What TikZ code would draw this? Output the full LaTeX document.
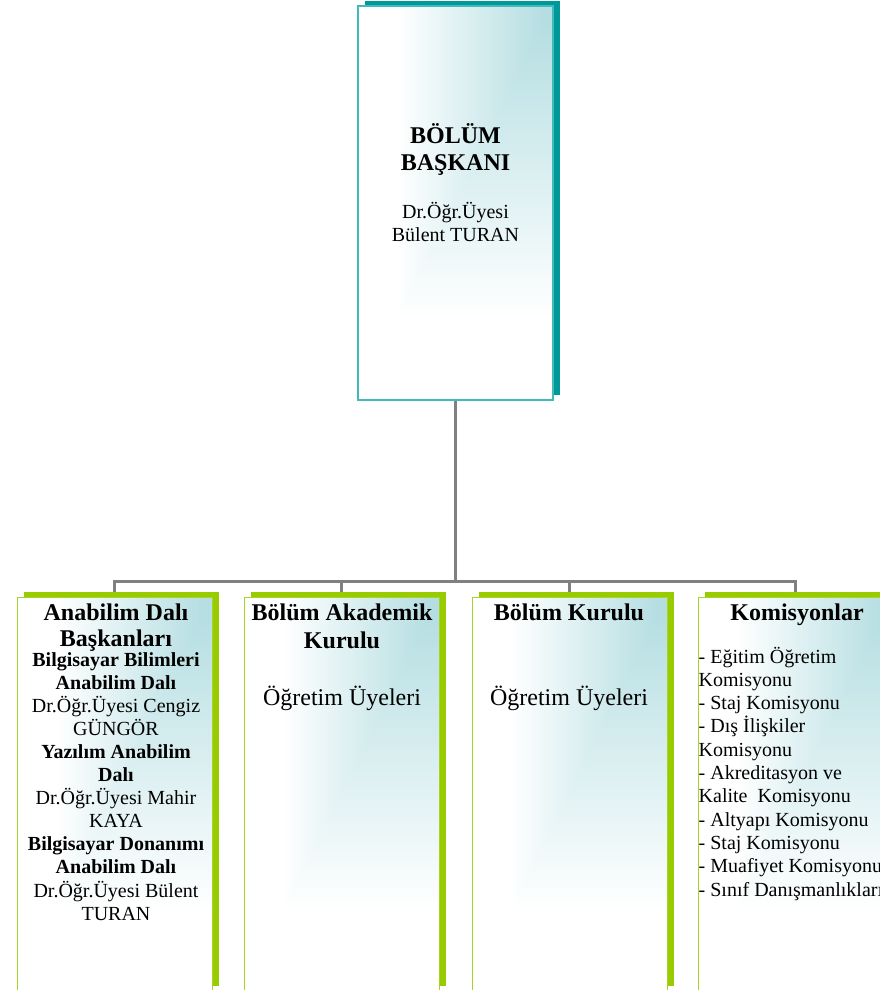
\documentclass[tikz,border=0pt]{standalone}
\usepackage{fontspec}
\setmainfont{Liberation Serif}
\usetikzlibrary{shadows,backgrounds}
\definecolor{tealD}{RGB}{0,153,153}
\definecolor{tealB}{RGB}{64,186,186}
\definecolor{grn}{RGB}{153,204,0}
\definecolor{grnB}{RGB}{168,212,40}
\definecolor{connc}{RGB}{128,128,128}
% rectangular "from corner" gradient: light teal at upper right, white at left and bottom
\pgfdeclarefunctionalshading{cornershade}{\pgfpoint{-98bp}{-200bp}}{\pgfpoint{98bp}{200bp}}{}{
  200 exch sub 394 div
  exch 98 exch sub 196 div
  2 copy lt {exch} if pop
  0.05 sub 0.75 div
  dup 0 lt {pop 0} if
  dup 1 gt {pop 1} if
  dup dup
  0.2902 mul 0.7098 add
  3 1 roll
  0.1294 mul 0.8706 add
  exch
  0.1137 mul 0.8863 add
}
\newcommand\hfont{\fontsize{24}{28}\selectfont\bfseries}
\newcommand\bfont{\fontsize{20}{23}\selectfont}
\newcommand\boxgradient{%
  \begin{pgfscope}%
    \pgftransformshift{\pgfpointanchor{path picture bounding box}{center}}%
    \pgflowlevelsynccm
    \pgfuseshading{cornershade}%
  \end{pgfscope}}
\begin{document}
\begin{tikzpicture}[x=1pt,y=-1pt,
  frontbox/.style={rectangle, inner sep=0pt, outer sep=0pt, anchor=north west, minimum width=195pt, fill=white,
    path picture={\boxgradient}},
  topbox/.style={frontbox, minimum height=394pt, draw=tealB, line width=1.5pt,
    general shadow={fill=tealD, shadow xshift=7pt, shadow yshift=5pt}},
  botbox/.style={frontbox, minimum height=394pt, draw=grnB, line width=1pt,
    general shadow={fill=grn, shadow xshift=6.5pt, shadow yshift=5pt}},
  connector/.style={draw=connc, line width=3pt, line join=miter},
  txt/.style={inner sep=0pt, anchor=base},
  ltxt/.style={inner sep=0pt, anchor=base west}]
\useasboundingbox (0,0) rectangle (880,990);

% boxes
\node[topbox] (top) at (358,6) {};
\node[botbox] (b1) at (17,597) {};
\node[botbox] (b2) at (244,597) {};
\node[botbox] (b3) at (472,597) {};
\node[botbox] (b4) at (698,597) {};

% connectors
\coordinate (bar) at (0,581);
\begin{scope}[on background layer]
\fill[white] (0,0) rectangle (880,990);
\draw[connector] (top.south) -- (top.south |- bar);
\draw[connector] (b1.north) -- (b1.north |- bar) -- (b4.north |- bar) -- (b4.north);
\draw[connector] (b2.north |- bar) -- (b2.north);
\draw[connector] (b3.north |- bar) -- (b3.north);
\end{scope}

% top box text
\node[txt, font=\hfont] (t1) at (455.5,143) {BÖLÜM};
\node[txt, font=\hfont] (t2) at (455.5,170) {BAŞKANI};
\node[txt, font=\bfont] (t3) at (455.5,218) {Dr.Öğr.Üyesi};
\node[txt, font=\bfont] (t4) at (455.5,241) {Bülent TURAN};

% box 1
\node[txt, font=\hfont] (h1a) at (116,620) {Anabilim Dalı};
\node[txt, font=\hfont] (h1b) at (116,646) {Başkanları};
\foreach \lbl [count=\i] in {{\bfseries Bilgisayar Bilimleri},{\bfseries Anabilim Dalı},Dr.Öğr.Üyesi Cengiz,GÜNGÖR,{\bfseries Yazılım Anabilim},{\bfseries Dalı},Dr.Öğr.Üyesi Mahir,KAYA,{\bfseries Bilgisayar Donanımı},{\bfseries Anabilim Dalı},Dr.Öğr.Üyesi Bülent,TURAN}
  \node[txt, font=\bfont] (p1l\i) at (116,{666.7+23.03*(\i-1)}) {\lbl};

% box 2
\node[txt, font=\hfont] (h2a) at (342,620) {Bölüm Akademik};
\node[txt, font=\hfont] (h2b) at (342,648) {Kurulu};
\node[txt, font=\fontsize{24}{28}\selectfont] (p2) at (342,705) {Öğretim Üyeleri};

% box 3
\node[txt, font=\hfont] (h3a) at (569,620) {Bölüm Kurulu};
\node[txt, font=\fontsize{24}{28}\selectfont] (p3) at (569,705) {Öğretim Üyeleri};

% box 4
\node[txt, font=\hfont] (h4a) at (797,620) {Komisyonlar};
\foreach \lbl [count=\i] in {- Eğitim Öğretim,Komisyonu,- Staj Komisyonu,- Dış İlişkiler,Komisyonu,- Akreditasyon ve,Kalite~~Komisyonu,- Altyapı Komisyonu,- Staj Komisyonu,- Muafiyet Komisyonu,- Sınıf Danışmanlıkları}
  \node[ltxt, font=\bfont] (p4l\i) at (698.5,{663+23.3*(\i-1)}) {\lbl};
\end{tikzpicture}
\end{document}
